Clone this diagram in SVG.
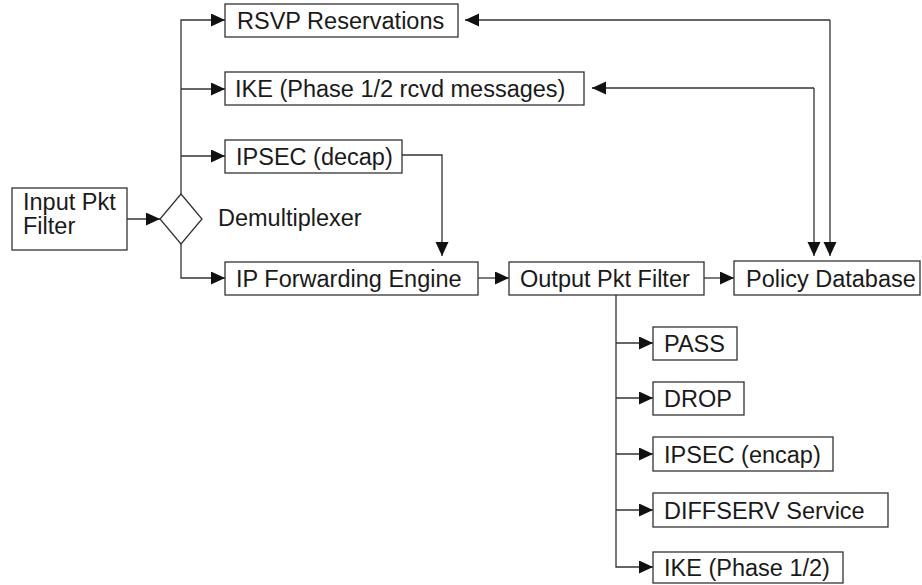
<svg xmlns="http://www.w3.org/2000/svg" width="922" height="585" viewBox="0 0 922 585">
<defs>
<style>
.box rect{fill:#fff;stroke:#333;stroke-width:1.3}
.box polygon{fill:#fff;stroke:#333;stroke-width:1.3}
text{font-family:"Liberation Sans",Arial,sans-serif;font-size:23.5px;fill:#1a1a1a}
.conn path{fill:none;stroke:#333;stroke-width:1.3}
</style>
<marker id="ah" markerUnits="userSpaceOnUse" markerWidth="16" markerHeight="14" refX="14" refY="6.5" orient="auto">
<path d="M0,0 L14,6.5 L0,13 Z" fill="#111"/>
</marker>
</defs>
<rect width="922" height="585" fill="#fff"/>
<g class="conn">
<path d="M127,219 H160" marker-end="url(#ah)"/>
<path d="M181,194 V20 H225" marker-end="url(#ah)"/>
<path d="M181,89 H225" marker-end="url(#ah)"/>
<path d="M181,156 H225" marker-end="url(#ah)"/>
<path d="M181,244 V278 H225" marker-end="url(#ah)"/>
<path d="M402,155 H442 V256" marker-end="url(#ah)"/>
<path d="M478,278 H509" marker-end="url(#ah)"/>
<path d="M704,278 H734" marker-end="url(#ah)"/>
<path d="M830,20 H465" marker-end="url(#ah)"/>
<path d="M830,20 V256" marker-end="url(#ah)"/>
<path d="M814,88 H592" marker-end="url(#ah)"/>
<path d="M814,88 V256" marker-end="url(#ah)"/>
<path d="M616,295 V567 H653" marker-end="url(#ah)"/>
<path d="M616,343 H653" marker-end="url(#ah)"/>
<path d="M616,398 H653" marker-end="url(#ah)"/>
<path d="M616,454 H653" marker-end="url(#ah)"/>
<path d="M616,510 H653" marker-end="url(#ah)"/>
</g>
<g id="input" class="box"><rect x="12" y="188" width="115" height="62"/><text x="23" y="210">Input Pkt</text><text x="23" y="234">Filter</text></g>
<g id="demux" class="box"><polygon points="181,194 202,219 181,244 160,219"/><text x="218" y="226">Demultiplexer</text></g>
<g id="rsvp" class="box"><rect x="225" y="4" width="233" height="33"/><text x="237" y="29">RSVP Reservations</text></g>
<g id="ike-rcvd" class="box"><rect x="225" y="72" width="359" height="33"/><text x="235" y="97">IKE (Phase 1/2 rcvd messages)</text></g>
<g id="ipsec-decap" class="box"><rect x="225" y="140" width="177" height="33"/><text x="236" y="165">IPSEC (decap)</text></g>
<g id="ipfwd" class="box"><rect x="225" y="262" width="253" height="33"/><text x="236" y="287">IP Forwarding Engine</text></g>
<g id="outfilter" class="box"><rect x="509" y="262" width="195" height="33"/><text x="520" y="287">Output Pkt Filter</text></g>
<g id="policy" class="box"><rect x="734" y="261" width="186" height="34"/><text x="746" y="287">Policy Database</text></g>
<g id="pass" class="box"><rect x="653" y="327" width="84" height="33"/><text x="664" y="352">PASS</text></g>
<g id="drop" class="box"><rect x="653" y="382" width="91" height="33"/><text x="664" y="407">DROP</text></g>
<g id="ipsec-encap" class="box"><rect x="653" y="437" width="180" height="34"/><text x="664" y="463">IPSEC (encap)</text></g>
<g id="diffserv" class="box"><rect x="653" y="493" width="235" height="34"/><text x="664" y="519">DIFFSERV Service</text></g>
<g id="ike" class="box"><rect x="653" y="552" width="190" height="31"/><text x="664" y="576">IKE (Phase 1/2)</text></g>
</svg>
